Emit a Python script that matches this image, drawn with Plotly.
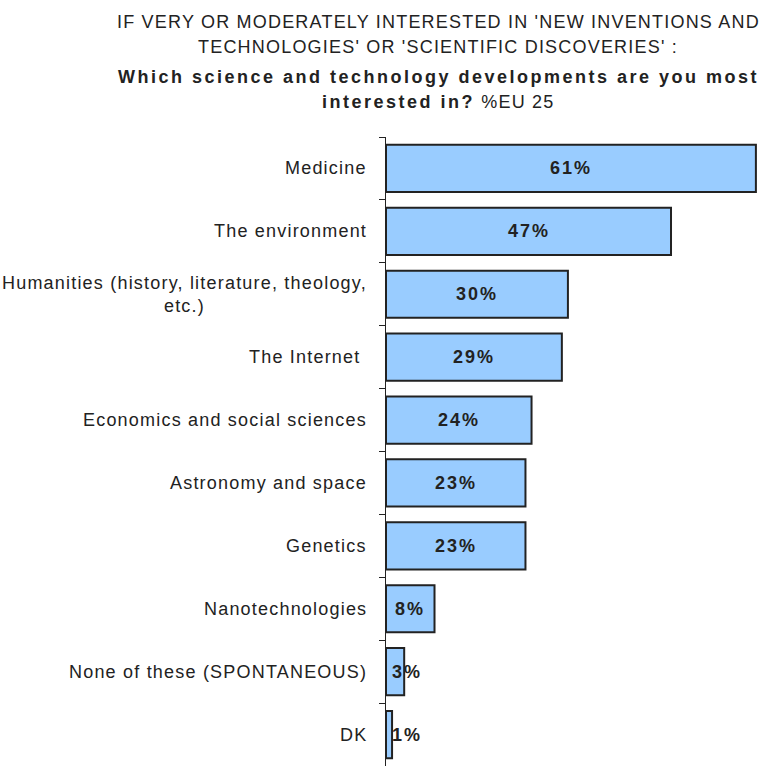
import plotly.graph_objects as go

categories = [
    "Medicine",
    "The environment",
    "Humanities (history, literature, theology,<br>etc.)",
    "The Internet ",
    "Economics and social sciences",
    "Astronomy and space",
    "Genetics",
    "Nanotechnologies",
    "None of these (SPONTANEOUS)",
    "DK",
]
values = [61, 47, 30, 29, 24, 23, 23, 8, 3, 1]
value_labels = ["61%", "47%", "30%", "29%", "24%", "23%", "23%", "8%", "3%", "1%"]

title_lines = [
    "IF VERY OR MODERATELY INTERESTED IN 'NEW INVENTIONS AND",
    "TECHNOLOGIES' OR 'SCIENTIFIC DISCOVERIES' :",
    "<b>Which science and technology developments are you most</b>",
    "<b>interested in?</b> %EU 25",
]

FONT = "Liberation Sans, Arial, sans-serif"
INK = "#222222"


def spaced(text, px):
    """Wrap each line of text in a span with extra letter spacing."""
    return "<br>".join(
        f'<span style="letter-spacing:{px}px">{line}</span>' for line in text.split("<br>")
    )


def spaced_title(text):
    # bold runs are tracked wider than regular ones
    text = text.replace("<b>", '<b><span style="letter-spacing:2.5px">').replace("</b>", "</span></b>")
    return f'<span style="letter-spacing:1.2px">{text}</span>'


fig = go.Figure()
fig.add_trace(go.Bar(
    x=values,
    y=categories,
    orientation="h",
    width=0.75,
    marker=dict(color="#99CCFF", line=dict(color=INK, width=2)),
    hoverinfo="skip",
))

# value labels centred on each bar, kept clear of the axis for tiny bars
for cat, v, lab in zip(categories, values, value_labels):
    fig.add_annotation(
        x=max(v / 2, 3.4), y=cat, text="<b>" + spaced(lab, 2) + "</b>", showarrow=False,
        font=dict(family=FONT, size=18, color=INK),
        xanchor="center", yanchor="middle",
    )

# category names, centre-aligned when wrapped
for cat in categories:
    fig.add_annotation(
        xref="paper", x=0, xshift=-17, y=cat, text=spaced(cat, 1.2), showarrow=False,
        font=dict(family=FONT, size=18, color=INK),
        xanchor="right", yanchor="middle", align="center",
    )

# title, one line per annotation (centres in pixels from the top of the page)
line_centres = [22, 47, 77, 102]
for txt, yc in zip(title_lines, line_centres):
    fig.add_annotation(
        xref="paper", yref="paper", x=(438 - 386) / 379, y=1.0, yshift=137 - yc,
        text=spaced_title(txt), showarrow=False, xanchor="center", yanchor="middle",
        font=dict(family=FONT, size=18, color=INK),
    )

fig.update_layout(
    width=765, height=766,
    margin=dict(l=386, r=0, t=137, b=0),
    paper_bgcolor="white", plot_bgcolor="white",
    showlegend=False,
    xaxis=dict(range=[0, 62.5], visible=False, fixedrange=True),
    yaxis=dict(
        autorange="reversed",
        showline=True, linecolor=INK, linewidth=1,
        ticks="outside", ticklen=6, tickcolor=INK,
        tickson="boundaries",
        showticklabels=False,
        showgrid=False, zeroline=False,
    ),
)

fig.write_html("out.html")
